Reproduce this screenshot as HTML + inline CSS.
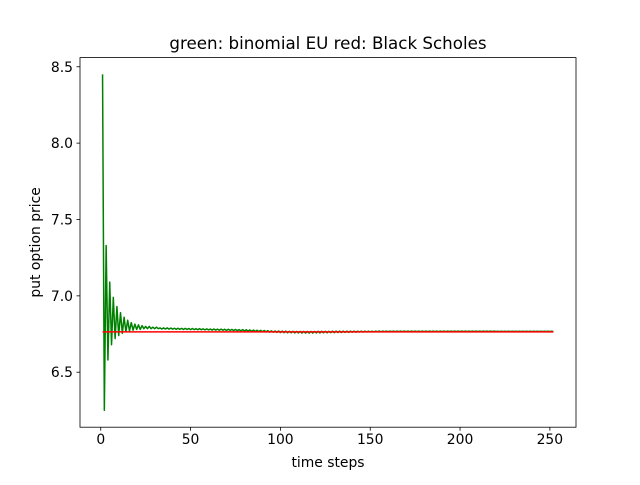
<!DOCTYPE html>
<html><head><meta charset="utf-8"><style>
body{margin:0;background:#fff;font-family:"Liberation Sans","DejaVu Sans",sans-serif}
svg text{font-family:"DejaVu Sans","Liberation Sans",sans-serif;fill:#000}
</style></head><body>
<svg id="chart" width="640" height="480"></svg>
<script>
const xTicks=[0,50,100,150,200,250];
const yTicks=[6.5,7.0,7.5,8.0,8.5];
const bsPrice=6.764;
const binomial=[8.45,6.25,7.33,6.58,7.09,6.68,6.99,6.72,6.93,6.74,6.89,6.755,6.86,6.765,6.84,6.77,6.825,6.775,6.815,6.78,
6.81,6.78,6.805,6.785,6.80,6.785,6.80,6.785,6.795,6.785,6.795,6.785,6.79,6.783,6.79,6.783,6.79,6.782,6.789,6.782,
6.788,6.781,6.788,6.781,6.787,6.780,6.787,6.780,6.786,6.779,6.786,6.779,6.785,6.778,6.785,6.778,6.784,6.777,6.784,6.777,
6.783,6.776,6.783,6.776,6.782,6.775,6.782,6.775,6.781,6.774,6.781,6.774,6.780,6.773,6.780,6.772,6.779,6.771,6.779,6.770,
6.778,6.769,6.777,6.768,6.776,6.767,6.775,6.766,6.774,6.765,6.773,6.764,6.772,6.763,6.771,6.762,6.770,6.761,6.770,6.760,
6.769,6.759,6.769,6.758,6.768,6.758,6.768,6.757,6.767,6.757,6.767,6.756,6.767,6.756,6.767,6.756,6.767,6.756,6.767,6.757,
6.768,6.757,6.768,6.758,6.768,6.758,6.768,6.759,6.769,6.759,6.769,6.760,6.769,6.760,6.769,6.761,6.769,6.761,6.769,6.762,
6.769,6.762,6.769,6.763,6.769,6.763,6.769,6.764,6.769,6.764,6.769,6.764,6.769,6.765,6.769,6.765,6.769,6.765,6.769,6.765,
6.769,6.766,6.769,6.766,6.769,6.766,6.769,6.766,6.769,6.766,6.769,6.766,6.769,6.766,6.769,6.766,6.769,6.766,6.769,6.766,
6.769,6.766,6.769,6.766,6.769,6.766,6.769,6.766,6.769,6.766,6.769,6.766,6.769,6.767,6.769,6.767,6.769,6.767,6.769,6.767,
6.769,6.767,6.769,6.767,6.769,6.767,6.769,6.767,6.769,6.767,6.769,6.767,6.769,6.767,6.769,6.767,6.769,6.767,6.769,6.767,
6.768,6.767,6.768,6.767,6.768,6.767,6.768,6.767,6.768,6.767,6.768,6.767,6.768,6.767,6.768,6.767,6.768,6.767,6.768,6.767,
6.768,6.767,6.768,6.767,6.768,6.767,6.768,6.767,6.768,6.767,6.768,6.767];

const NS='http://www.w3.org/2000/svg';
const svg=document.getElementById('chart');
const L=80,R=576,T=57.6,B=427.2;
const n=binomial.length;
const xmin=1-0.05*(n-1),xmax=n+0.05*(n-1);
const allY=binomial.concat([bsPrice]);
const dmin=Math.min(...allY),dmax=Math.max(...allY),dr=dmax-dmin;
const ymin=dmin-0.05*dr,ymax=dmax+0.05*dr;
const sx=v=>L+(v-xmin)/(xmax-xmin)*(R-L);
const sy=v=>B-(v-ymin)/(ymax-ymin)*(B-T);
function mk(tag,attrs){const e=document.createElementNS(NS,tag);for(const k in attrs)e.setAttribute(k,attrs[k]);svg.appendChild(e);return e;}

let pts=binomial.map((v,i)=>sx(i+1).toFixed(2)+','+sy(v).toFixed(2)).join(' ');
const g=mk('polyline',{points:pts,fill:'none',stroke:'#008000','stroke-width':1.5,'stroke-linejoin':'round'});


const r=mk('line',{x1:sx(1),x2:sx(n),y1:sy(bsPrice),y2:sy(bsPrice),stroke:'#ff0000','stroke-width':1.5});



const frame=mk('rect',{x:L,y:T,width:R-L,height:B-T,fill:'none',stroke:'#000','stroke-width':0.8});



xTicks.forEach(t=>{
  const x=sx(t);
  const tk=mk('line',{x1:x,x2:x,y1:B,y2:B+3.5,stroke:'#000','stroke-width':0.8});
  
  
  const tl=mk('text',{x:x,y:B+17,'text-anchor':'middle','font-size':'13.9px'});
  tl.textContent=String(t);
  
  
});
yTicks.forEach(t=>{
  const y=sy(t);
  const tk=mk('line',{x1:L-3.5,x2:L,y1:y,y2:y,stroke:'#000','stroke-width':0.8});
  
  
  const tl=mk('text',{x:L-7,y:y+5,'text-anchor':'end','font-size':'13.9px'});
  tl.textContent=t.toFixed(1);
  
  
});
const xt=mk('text',{x:(L+R)/2,y:467,'text-anchor':'middle','font-size':'13.9px'});
xt.textContent='time steps';


const yt=mk('text',{x:0,y:0,'text-anchor':'middle','font-size':'13.9px',transform:'translate(40,'+((T+B)/2)+') rotate(-90)'});
yt.textContent='put option price';


const ti=mk('text',{x:(L+R)/2,y:49,'text-anchor':'middle','font-size':'16.7px'});
ti.textContent='green: binomial EU red: Black Scholes';


</script>
</body></html>
